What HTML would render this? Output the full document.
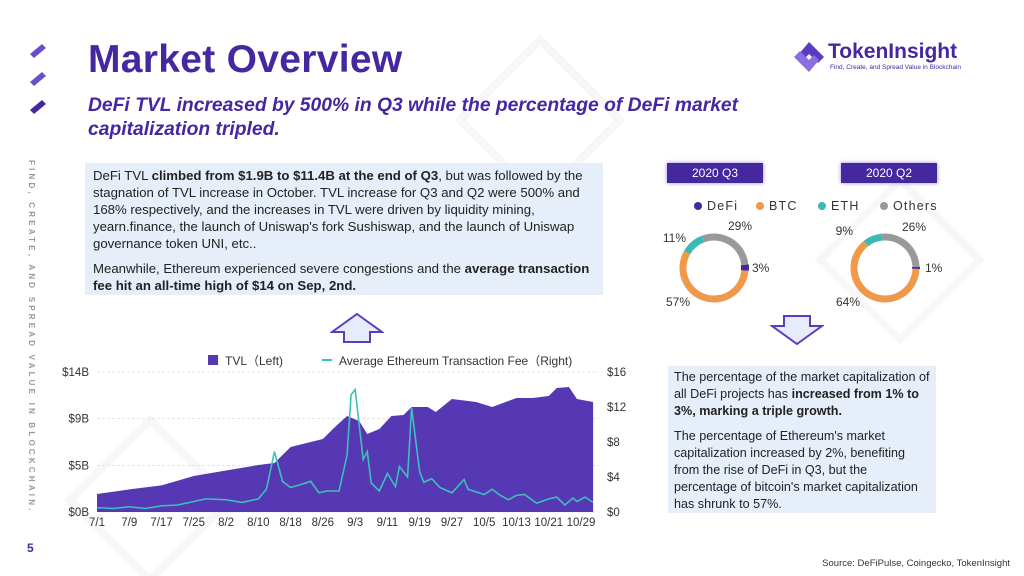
<!DOCTYPE html>
<html><head><meta charset="utf-8"><style>
*{margin:0;padding:0;box-sizing:border-box}
body{width:1024px;height:576px;background:#fff;font-family:"Liberation Sans",sans-serif;position:relative;overflow:hidden;color:#222}
.abs{position:absolute}
.box{background:#e5eef9;font-size:13.2px;line-height:17px;color:#222;padding:4px 8px}
.box p{margin-bottom:8px}
.tag{background:#4527a0;color:#fff;font-size:12px;text-align:center;line-height:20px;box-shadow:0 0 4px #9a86d8}
</style></head><body>
<svg class="abs" style="left:0;top:0" width="1024" height="576">
<g stroke="#f7f7f9" stroke-width="8" fill="none"><path d="M540 40 L620 120 L540 200 L460 120Z"/><path d="M900 180 L980 260 L900 340 L820 260Z"/><path d="M150 420 L230 500 L150 580 L70 500Z"/></g>
</svg>
<div class="abs" style="left:28px;top:42px">
<svg width="20" height="80"><g fill="#6a4fc8"><path d="M2 12 L14 2 L18 6 L6 16Z"/><path d="M2 40 L14 30 L18 34 L6 44Z"/><path d="M2 68 L14 58 L18 62 L6 72Z" fill="#4527a0"/></g></svg>
</div>
<div class="abs" style="left:88px;top:38px;font-size:39px;font-weight:bold;color:#4527a0;letter-spacing:0.3px">Market Overview</div>
<div class="abs" style="left:88px;top:94px;width:700px;font-size:19.3px;font-weight:bold;font-style:italic;color:#4527a0;line-height:24px">DeFi TVL increased by 500% in Q3 while the percentage of DeFi market capitalization tripled.</div>
<div class="abs" style="left:792px;top:40px">
<svg width="34" height="34"><g fill="#5a3cc0"><path d="M17 2 L32 17 L26 23 L17 14 L12 19 L7 14Z"/><path d="M2 17 L8 11 L17 20 L22 15 L27 20 L17 32Z" fill="#8a6de0"/></g></svg>
</div>
<div class="abs" style="left:828px;top:40px;font-size:21px;font-weight:bold;color:#4527a0">TokenInsight</div>
<div class="abs" style="left:830px;top:64px;font-size:6.5px;color:#4527a0">Find, Create, and Spread Value in Blockchain</div>
<div class="abs" style="left:22px;top:160px;width:14px;writing-mode:vertical-rl;font-size:8px;letter-spacing:3.2px;color:#999;font-weight:bold">FIND, CREATE, AND SPREAD VALUE IN BLOCKCHAIN.</div>
<div class="abs" style="left:27px;top:541px;font-size:12px;font-weight:bold;color:#4527a0">5</div>
<div class="abs box" style="left:85px;top:163px;width:518px;height:132px">
<p>DeFi TVL <b>climbed from $1.9B to $11.4B at the end of Q3</b>, but was followed by the stagnation of TVL increase in October. TVL increase for Q3 and Q2 were 500% and 168% respectively, and the increases in TVL were driven by liquidity mining, yearn.finance, the launch of Uniswap's fork Sushiswap, and the launch of Uniswap governance token UNI, etc..</p>
<p>Meanwhile, Ethereum experienced severe congestions and the <b>average transaction fee hit an all-time high of $14 on Sep, 2nd.</b></p>
</div>
<svg class="abs" style="left:330px;top:312px" width="54" height="32"><path d="M27 2 L52 20 L40 20 L40 30 L14 30 L14 20 L2 20Z" fill="#e6ecfb" stroke="#5a3cc0" stroke-width="2"/></svg>
<svg class="abs" style="left:770px;top:314px" width="54" height="32"><path d="M27 30 L52 12 L40 12 L40 2 L14 2 L14 12 L2 12Z" fill="#e6ecfb" stroke="#5a3cc0" stroke-width="2"/></svg>
<div class="abs tag" style="left:667px;top:163px;width:96px">2020 Q3</div>
<div class="abs tag" style="left:841px;top:163px;width:96px">2020 Q2</div>
<svg class="abs" style="left:640px;top:190px" width="320" height="130" id="donuts"></svg>
<div class="abs box" style="left:668px;top:366px;width:268px;height:147px;padding:3px 6px;font-size:12.6px">
<p>The percentage of the market capitalization of all DeFi projects has <b>increased from 1% to 3%, marking a triple growth.</b></p>
<p>The percentage of Ethereum's market capitalization increased by 2%, benefiting from the rise of DeFi in Q3, but the percentage of bitcoin's market capitalization has shrunk to 57%.</p>
</div>
<svg class="abs" style="left:50px;top:345px" width="600" height="190" id="chart"></svg>
<div class="abs" style="right:14px;top:558px;font-size:9.5px;color:#333">Source: DeFiPulse, Coingecko, TokenInsight</div>
<script>
const tvlDays=[0,8,16,24,32,40,44,48,56,59,62,65,67,70,73,76,78,82,84,88,94,98,104,108,112,114,117,119,123];
const tvlValues=[1.8,2.26,2.66,3.6,4.15,4.7,4.9,6.5,7.3,8.5,9.6,9.1,7.8,8.3,9.6,9.7,10.5,10.5,10.0,11.3,11.0,10.5,11.4,11.4,11.6,12.4,12.5,11.3,11.0];
const feeDays=[0,4,8,12,16,20,24,27,32,36,40,42,44,46,48,51,53,55,57,60,62,63,64,66,67,68,70,72,74,75,77,78,80,81,83,85,88,91,92,96,98,100,102,104,106,109,112,114,116,118,119,121,123];
const feeValues=[0.5,0.4,0.6,0.4,0.7,0.8,1.2,1.5,1.4,1.1,1.5,2.6,6.9,3.5,2.8,3.2,3.5,2.2,2.4,2.4,6.5,13.4,14,6,6.9,3.3,2.4,4.4,2.9,5.2,4,11.9,4.6,3.4,3.8,2.8,2.2,3.7,2.6,2.0,2.6,1.9,1.4,1.9,2,1,1.5,1.7,0.8,1.6,1.2,1.7,1.1];
const xLabels=["7/1","7/9","7/17","7/25","8/2","8/10","8/18","8/26","9/3","9/11","9/19","9/27","10/5","10/13","10/21","10/29"];
const leftTicks=["$0B","$5B","$9B","$14B"];
const rightTicks=["$0","$4","$8","$12","$16"];
const NS="http://www.w3.org/2000/svg";
const svg=document.getElementById('chart');
function mk(t,a,p){const e=document.createElementNS(NS,t);for(const k in a)e.setAttribute(k,a[k]);(p||svg).appendChild(e);return e;}
const X0=47,X1=549,Y0=167,Y1=27;
const x=d=>X0+d*(484/120);
const yL=v=>Y0-v/14*(Y0-Y1);
const yR=v=>Y0-v/16*(Y0-Y1);
leftTicks.forEach((t,i)=>{const yy=Y0-i*(Y0-Y1)/3;
 const g=mk('line',{x1:X0,x2:X1,y1:yy,y2:yy,stroke:'#e4e4e4','stroke-width':1,'stroke-dasharray':'3,2'});
 
 const e=mk('text',{x:X0-8,y:yy+4,'text-anchor':'end','font-size':11.5,fill:'#333'});e.textContent=t;
 });
rightTicks.forEach((t,i)=>{const e=mk('text',{x:X1+8,y:yR(i*4)+4,'font-size':11.5,fill:'#333'});e.textContent=t;
 });
xLabels.forEach((t,i)=>{const e=mk('text',{x:x(i*8),y:Y0+14,'text-anchor':'middle','font-size':11.5,fill:'#333'});e.textContent=t;
 });
let d='M'+x(tvlDays[0])+','+Y0;tvlDays.forEach((dd,i)=>d+=' L'+x(dd)+','+yL(tvlValues[i]));d+=' L'+x(tvlDays[tvlDays.length-1])+','+Y0+'Z';
const area=mk('path',{d:d,fill:'#5638b4'});

const line=mk('polyline',{points:feeDays.map((dd,i)=>x(dd)+','+yR(feeValues[i])).join(' '),fill:'none',stroke:'#3cc0b8','stroke-width':1.6});

const lg=mk('rect',{x:158,y:10,width:10,height:10,fill:'#5638b4'});
const lt=mk('text',{x:175,y:20,'font-size':12,fill:'#333'});lt.textContent='TVL（Left)';
const lf=mk('line',{x1:272,x2:282,y1:15,y2:15,stroke:'#3cc0b8','stroke-width':2});
const lt2=mk('text',{x:289,y:20,'font-size':12,fill:'#333'});lt2.textContent='Average Ethereum Transaction Fee（Right)';

// donuts
const donutLabels=["DeFi","BTC","ETH","Others"];
const donutColors=["#4527a0","#f0994a","#3bbab5","#999999"];
const q3Values=[3,57,11,29];
const q2Values=[1,64,9,26];
const ds=document.getElementById('donuts');
donutLabels.forEach((l,i)=>{const bx=58+i*62;
 const c=mk('circle',{cx:bx,cy:16,r:4,fill:donutColors[i]},ds);
 const t=mk('text',{x:bx+9,y:20,'font-size':12.5,fill:'#333','letter-spacing':1.2},ds);t.textContent=l;});
function donut(cx,cy,vals,start,labs){let a=start;const r=31;
 vals.forEach((v,i)=>{const a2=a+v*3.6;const p=(ang)=>[cx+r*Math.sin(ang*Math.PI/180),cy-r*Math.cos(ang*Math.PI/180)];
  const [x1,y1]=p(a),[x2,y2]=p(a2);
  const s=mk('path',{d:`M${x1},${y1} A${r},${r} 0 ${v>50?1:0} 1 ${x2},${y2}`,fill:'none',stroke:donutColors[i],'stroke-width':i==0?8:7},ds);
  
  const t=mk('text',{x:cx+labs[i][0],y:cy+labs[i][1],'font-size':12,fill:'#333','text-anchor':labs[i][2]},ds);t.textContent=v+'%';
  
  a=a2;});}
donut(74,78,q3Values,84,[[38,4,'start'],[-24,38,'end'],[-28,-26,'end'],[14,-38,'start']]);
donut(245,78,q2Values,88,[[40,4,'start'],[-25,38,'end'],[-32,-33,'end'],[17,-37,'start']]);
</script>
</body></html>
